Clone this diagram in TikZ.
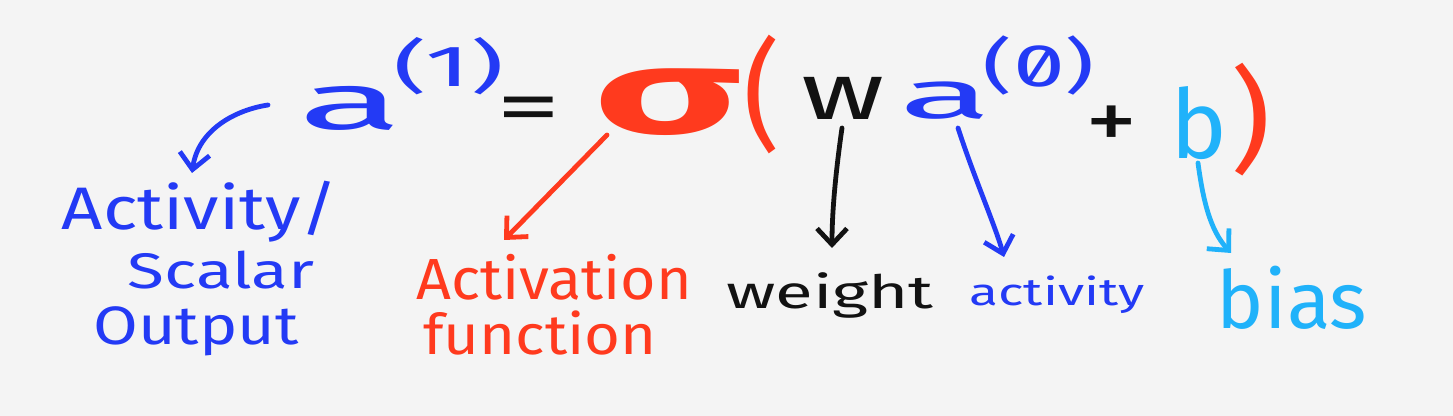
\documentclass[tikz,border=0pt]{standalone}
\usepackage{fontspec}
\setmainfont{Fira Sans}
\newfontfamily\zerofont[Numbers=SlashedZero]{Fira Sans}
\usetikzlibrary{arrows.meta}
\definecolor{bgc}{RGB}{244,244,244}
\definecolor{hblue}{RGB}{35,58,245}
\definecolor{hred}{RGB}{255,58,30}
\definecolor{hsky}{RGB}{32,178,250}
\definecolor{hblack}{RGB}{18,18,18}
\tikzset{
  glyph/.style={inner sep=0pt, outer sep=0pt, transform shape},
  fs/.style={font=\fontsize{#1}{#1}\selectfont},
  bfs/.style={font=\fontsize{#1}{#1}\selectfont\bfseries},
  hand/.style={line width=2.4pt, line cap=round, line join=round,
    -{Straight Barb[length=8pt,width=15pt,line width=2.4pt]}},
}
\begin{document}
\begin{tikzpicture}[x=0.5pt,y=-0.5pt]
\fill[bgc] (0,0) rectangle (1453,416);
\useasboundingbox (0,0) rectangle (1453,416);

% equation
\node[glyph, fs=40, text=hblue, xscale=2.4] (a1) at (351,108) {a};
\node[glyph, fs=29, text=hblue, xscale=1.8] (s1) at (449,66) {(1)};
\node[glyph, fs=38, text=hblack, xscale=1.7] (eq) at (529,115) {=};
\node[glyph, bfs=60, text=hred, xscale=2.05] (sig) at (668,102) {σ};
\node[glyph, fs=60, text=hred, xscale=0.95] (lp) at (762,95) {(};
\node[glyph, fs=40, text=hblack, xscale=1.45] (w) at (843,98) {w};
\node[glyph, fs=34, text=hblue, xscale=2.5] (a0) at (946,101) {a};
\node[glyph, fs=30, text=hblue, xscale=1.55] (s0) at (1039,66) {\zerofont(0)};
\node[glyph, fs=42, text=hblack, xscale=1.25] (plus) at (1112,128) {+};
\node[glyph, fs=48, text=hsky] (b) at (1199,123) {b};
\node[glyph, fs=57, text=hred, xscale=1.1] (rp) at (1251,120) {)};

% labels
\node[glyph, fs=30, text=hblue, xscale=1.2] (l1) at (200,212) {Activity/};
\node[glyph, fs=25, text=hblue, xscale=1.35] (l2) at (221,270) {Scalar};
\node[glyph, fs=27, text=hblue, xscale=1.2] (l3) at (196,331) {Output};
\node[glyph, fs=29, text=hred, xscale=1.05] (l4) at (554,277) {Activation};
\node[glyph, fs=28, text=hred, xscale=1.1] (l5) at (540,333) {function};
\node[glyph, fs=23, text=hblack, xscale=1.5] (l6) at (830,295) {weight};
\node[glyph, fs=19, text=hblue, xscale=1.4] (l7) at (1057,295) {activity};
\node[glyph, fs=40, text=hsky] (l8) at (1292,298) {bias};

% connector ends
\coordinate (c1s) at (268,105);
\coordinate (c1e) at (192,173);
\coordinate (c2s) at (607,135);
\coordinate (c2e) at (504,240);
\coordinate (c3s) at (842,128);
\coordinate (c3e) at (832,248);
\coordinate (c4s) at (958,128);
\coordinate (c4e) at (1004,257);
\coordinate (c5s) at (1198,163);
\coordinate (c5e) at (1231,253);

\draw[hand, hblue] (c1s) .. controls (235,110) and (198,130) .. (c1e);
\draw[hand, hred] (c2s) -- (c2e);
\draw[hand, hblack] (c3s) .. controls (836,170) and (832,210) .. (c3e);
\draw[hand, hblue] (c4s) .. controls (975,180) and (995,225) .. (c4e);
\draw[hand, hsky] (c5s) .. controls (1203,200) and (1210,230) .. (c5e);
\end{tikzpicture}
\end{document}
